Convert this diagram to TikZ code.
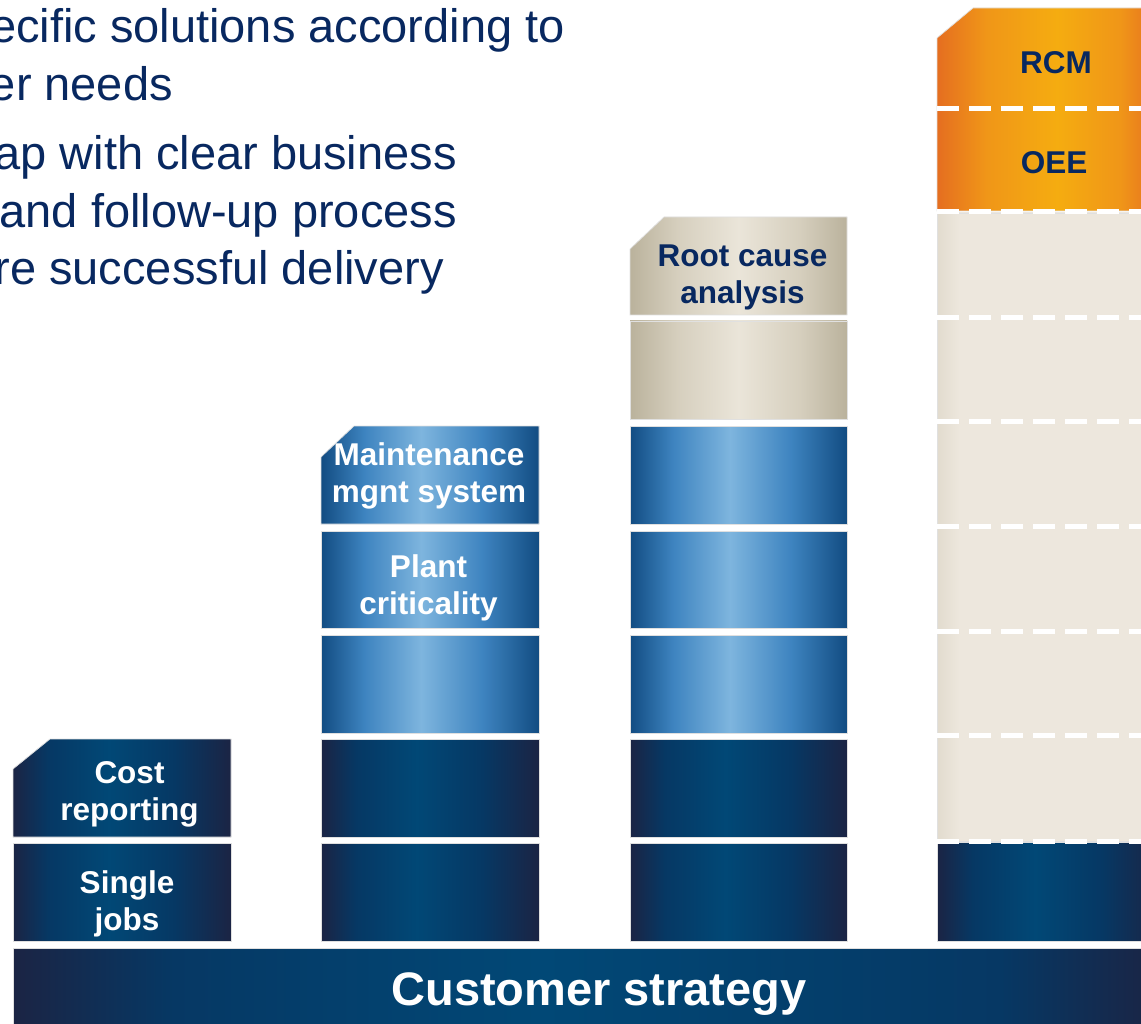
\documentclass[tikz,border=0pt]{standalone}
\usepackage{fontspec}
\setmainfont{Liberation Sans}
\definecolor{navytext}{RGB}{8,40,96}
\definecolor{dA}{RGB}{27,36,68}
\definecolor{dB}{RGB}{6,56,100}
\definecolor{dC}{RGB}{1,72,118}
\definecolor{bA}{RGB}{18,76,130}
\definecolor{bB}{RGB}{62,132,192}
\definecolor{bC}{RGB}{126,181,222}
\definecolor{gA}{RGB}{186,178,156}
\definecolor{gB}{RGB}{214,207,190}
\definecolor{gC}{RGB}{234,229,217}
\definecolor{eA}{RGB}{226,219,206}
\definecolor{eB}{RGB}{237,231,221}
\definecolor{oA}{RGB}{229,110,32}
\definecolor{oB}{RGB}{240,150,24}
\definecolor{oC}{RGB}{245,172,16}
\pgfdeclarehorizontalshading{darkshade}{100bp}{color(0bp)=(dA); color(25bp)=(dA); color(33bp)=(dB); color(47bp)=(dC); color(62bp)=(dB); color(75bp)=(dA); color(100bp)=(dA)}
\pgfdeclarehorizontalshading{blueshade}{100bp}{color(0bp)=(bA); color(25bp)=(bA); color(35bp)=(bB); color(48bp)=(bC); color(62bp)=(bB); color(75bp)=(bA); color(100bp)=(bA)}
\pgfdeclarehorizontalshading{beigeshade}{100bp}{color(0bp)=(gA); color(25bp)=(gA); color(36bp)=(gB); color(50bp)=(gC); color(64bp)=(gB); color(75bp)=(gA); color(100bp)=(gA)}
\pgfdeclarehorizontalshading{creamshade}{100bp}{color(0bp)=(eA); color(25bp)=(eA); color(30bp)=(eB); color(100bp)=(eB)}
\pgfdeclarehorizontalshading{orangeshade}{100bp}{color(0bp)=(oA); color(25bp)=(oA); color(36bp)=(oB); color(52bp)=(oC); color(66bp)=(oB); color(75bp)=(oA); color(100bp)=(oA)}
\pgfdeclarehorizontalshading{baseshade}{100bp}{color(0bp)=(dA); color(25bp)=(dA); color(32bp)=(dB); color(48bp)=(dC); color(68bp)=(dB); color(75bp)=(dA); color(100bp)=(dA)}
\tikzset{
  blk/.style={draw=black!12, line width=0.7pt},
  darkblk/.style={blk, shading=darkshade},
  blueblk/.style={blk, shading=blueshade},
  beigeblk/.style={blk, shading=beigeshade},
  lbl/.style={font=\fontsize{31.5}{37}\selectfont\bfseries, align=center, inner sep=0pt, text height=24pt, text depth=8pt},
  whitelbl/.style={lbl, text=white},
  navylbl/.style={lbl, text=navytext},
  toptext/.style={font=\fontsize{47}{56}\selectfont, text=navytext, inner sep=0pt, anchor=base east},
  sep/.style={draw=white, line width=5pt, dash pattern=on 22pt off 10pt}
}
\begin{document}
\begin{tikzpicture}[x=1pt,y=-1pt]
\useasboundingbox (0,0) rectangle (1141,1024);
\clip (0,0) rectangle (1141,1024);
\fill[white] (0,0) rectangle (1141,1024);

% top text
\node[toptext] (t1) at (565,43) {ecific solutions according to};
\node[toptext] (t2) at (173,101) {er needs};
\node[toptext] (t3) at (457,170) {ap with clear business};
\node[toptext] (t4) at (457,228) {and follow-up process};
\node[toptext] (t5) at (444,285) {re successful delivery};

% column 1
\path[darkblk] (13,843) rectangle (231,941);
\path[darkblk] (13,769) -- (50,739) -- (231,739) -- (231,837) -- (13,837) -- cycle;

% column 2
\path[darkblk] (321,843) rectangle (539,941);
\path[darkblk] (321,739) rectangle (539,837);
\path[blueblk] (321,635) rectangle (539,733);
\path[blueblk] (321,531) rectangle (539,628);
\path[blueblk] (321,457) -- (354,426) -- (539,426) -- (539,524) -- (321,524) -- cycle;

% column 3
\path[darkblk] (630,843) rectangle (847,941);
\path[darkblk] (630,739) rectangle (847,837);
\path[blueblk] (630,635) rectangle (847,733);
\path[blueblk] (630,531) rectangle (847,628);
\path[blueblk] (630,426) rectangle (847,524);
\path[beigeblk] (630,321) rectangle (847,419);
\path[beigeblk] (630,249) -- (664,217) -- (847,217) -- (847,315) -- (630,315) -- cycle;

% column 4
\path[blk, shading=orangeshade] (937,38) -- (973,8) -- (1160,8) -- (1160,211) -- (937,211) -- cycle;
\path[blk, shading=creamshade] (937,213) rectangle (1160,841);
\path[blk, shading=darkshade] (937,842) rectangle (1160,941);
\foreach \yy in {109,211.5,317.5,421.5,526.5,631,735,841}
  \draw[sep] (937,\yy) -- (1160,\yy);

% base
\path[blk, shading=baseshade] (13,948) rectangle (1160,1030);

% labels
\node[whitelbl] (cost) at (129.5,812.5) {Cost\\reporting};
\node[whitelbl] (single) at (127,922) {Single\\jobs};
\node[whitelbl] (mms) at (429,494.5) {Maintenance\\mgnt system};
\node[whitelbl] (plant) at (428.5,606.5) {Plant\\criticality};
\node[navylbl] (rca) at (742.5,295.5) {Root cause\\analysis};
\node[navylbl, anchor=base, text height=, text depth=] (rcm) at (1056,74) {RCM};
\node[navylbl, anchor=base, text height=, text depth=] (oee) at (1054,174) {OEE};
\node[font=\fontsize{47}{56}\selectfont\bfseries, text=white, inner sep=0pt, anchor=base] (cs) at (599,1005) {Customer strategy};
\end{tikzpicture}
\end{document}
